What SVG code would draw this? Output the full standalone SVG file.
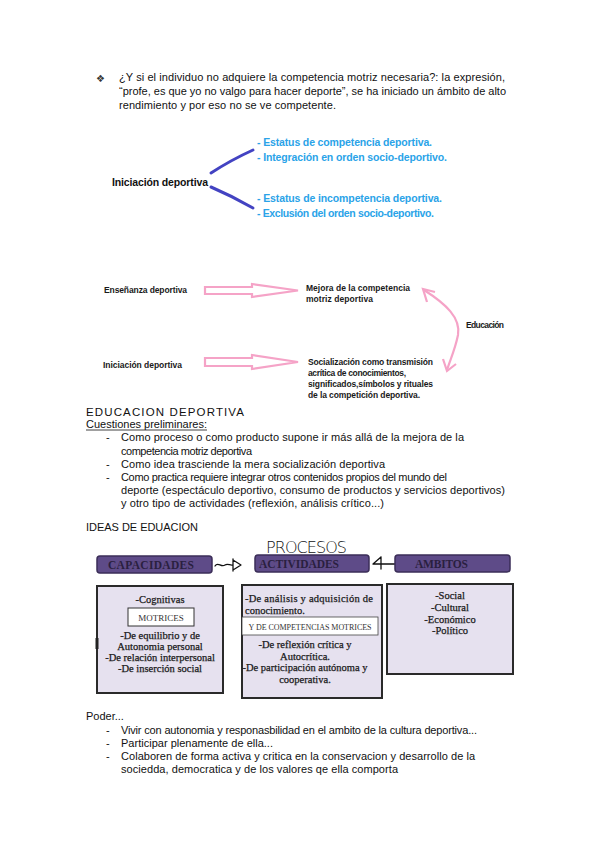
<svg xmlns="http://www.w3.org/2000/svg" width="599" height="848" viewBox="0 0 599 848">
<defs>
<style>
.body{font-family:"Liberation Sans",Arial,sans-serif;font-size:11px;fill:#111}
.blue{font-family:"Liberation Sans",Arial,sans-serif;font-size:10.5px;font-weight:bold;fill:#2aa3e8}
.dg{font-family:"Liberation Sans",Arial,sans-serif;font-size:8.5px;font-weight:bold;fill:#1a1a1a}
.hdr{fill:#5e4b88;stroke:#3b2e58;stroke-width:1.5}
.hdrt{font-family:"Liberation Serif","Times New Roman",serif;font-size:11.5px;font-weight:bold;fill:#2a1f3f}
.box{fill:#e6e1ef;stroke:#2a2a2a;stroke-width:2}
.bt{font-family:"Liberation Serif","Times New Roman",serif;font-size:10.5px;fill:#1a1a1a;stroke:#1a1a1a;stroke-width:0.25;text-anchor:middle}
.btl{font-family:"Liberation Serif","Times New Roman",serif;font-size:10.5px;fill:#1a1a1a;stroke:#1a1a1a;stroke-width:0.25}
.wt{font-family:"Liberation Serif","Times New Roman",serif;font-size:8px;fill:#333;text-anchor:middle}
.pink{fill:none;stroke:#f5a3c7;stroke-width:2.2;stroke-linejoin:miter}
.bl{fill:none;stroke:#4343c2;stroke-width:3;stroke-linecap:round}
.hand{fill:none;stroke:#111;stroke-width:1.3;stroke-linecap:round;stroke-linejoin:round}
</style>
</defs>
<rect width="599" height="848" fill="#fff"/>

<g id="intro">
<text x="96" y="82" style="font-family:'DejaVu Sans',sans-serif;font-size:10px;fill:#333">❖</text>
<text class="body" x="119" y="81" textLength="386">¿Y si el individuo no adquiere la competencia motriz necesaria?: la expresión,</text>
<text class="body" x="119" y="95" textLength="387">“profe, es que yo no valgo para hacer deporte”, se ha iniciado un ámbito de alto</text>
<text class="body" x="119" y="109" textLength="217">rendimiento y por eso no se ve competente.</text>
</g>

<g id="connectors">
<path class="bl" d="M211,173 Q231,160 253,150"/>
<path class="bl" d="M211,187 Q232,196 253,208"/>
<path class="pink" d="M205,287 H252 V284 L298,290.5 L252,297 V294 H205 Z"/>
<path class="pink" d="M205,358 H252 V355 L298,362 L252,369 V366 H205 Z"/>
<path class="pink" d="M424,290 C446,304 461,318 458,335 C455,350 450,360 447,370"/>
<path class="pink" d="M435,292 L423,289 L427,302"/>
<path class="pink" d="M443,359 L447,371 L456,364"/>
<path class="hand" d="M215,566 C218,561 221,568 225,565 C228,563 230,566 233,565 M233,559 V571 M233,560 L241,565 L233,570"/>
<path class="hand" d="M395,564 H383 M381,557 L373,564 L383,564 M381,557 V569"/>
</g>

<g id="iniciacion">
<text x="112" y="186" textLength="96" style="font-family:'Liberation Sans',Arial,sans-serif;font-size:10.5px;font-weight:bold;fill:#111">Iniciación deportiva</text>
</g>
<g id="competencia">
<text class="blue" x="257" y="146" textLength="175">- Estatus de competencia deportiva.</text>
<text class="blue" x="257" y="161" textLength="190">- Integración en orden socio-deportivo.</text>
</g>
<g id="incompetencia">
<text class="blue" x="257" y="202" textLength="185">- Estatus de incompetencia deportiva.</text>
<text class="blue" x="257" y="217" textLength="177">- Exclusión del orden socio-deportivo.</text>
</g>

<g id="ensenanza"><text class="dg" x="104" y="293" textLength="83">Enseñanza deportiva</text></g>
<g id="mejora">
<text class="dg" x="306" y="291" textLength="104">Mejora de la competencia</text>
<text class="dg" x="306" y="302" textLength="67">motriz deportiva</text>
</g>
<g id="educacion"><text class="dg" x="466" y="328" textLength="38">Educación</text></g>
<g id="iniciacion2"><text class="dg" x="103" y="368" textLength="79">Iniciación deportiva</text></g>
<g id="socializacion">
<text class="dg" x="308" y="365" textLength="125">Socialización como transmisión</text>
<text class="dg" x="308" y="376" textLength="98">acrítica de conocimientos,</text>
<text class="dg" x="308" y="387" textLength="125">significados,símbolos y rituales</text>
<text class="dg" x="308" y="398" textLength="112">de la competición deportiva.</text>
</g>

<g id="educacion-deportiva">
<text class="body" x="86" y="416" textLength="158" style="font-size:11.5px">EDUCACION DEPORTIVA</text>
<text class="body" x="86" y="428" textLength="121">Cuestiones preliminares:</text>
<line x1="86" y1="430" x2="207" y2="430" stroke="#111" stroke-width="0.8"/>
<text class="body" x="106" y="441">-</text>
<text class="body" x="121" y="441" textLength="343">Como proceso o como producto supone ir más allá de la mejora de la</text>
<text class="body" x="121" y="455" textLength="131">competencia motriz deportiva</text>
<text class="body" x="106" y="468">-</text>
<text class="body" x="121" y="468" textLength="264">Como idea trasciende la mera socialización deportiva</text>
<text class="body" x="106" y="481">-</text>
<text class="body" x="121" y="481" textLength="326">Como practica requiere integrar otros contenidos propios del mundo del</text>
<text class="body" x="121" y="494" textLength="384">deporte (espectáculo deportivo, consumo de productos y servicios deportivos)</text>
<text class="body" x="121" y="507" textLength="263">y otro tipo de actividades (reflexión, análisis crítico...)</text>
<text class="body" x="86" y="531" textLength="112">IDEAS DE EDUACION</text>
</g>

<g id="procesos">
<text x="266" y="553" style="font-family:'DejaVu Sans',sans-serif;font-size:16px;font-weight:200;fill:#111" textLength="81">PROCESOS</text>
</g>

<g id="capacidades">
<rect class="hdr" x="97" y="556" width="115" height="17" rx="3"/>
<text class="hdrt" x="108" y="569" textLength="86">CAPACIDADES</text>
<rect class="box" x="97" y="586" width="126" height="107"/>
<rect x="95.5" y="638" width="3" height="11" fill="#222"/>
<text class="bt" x="160" y="603">-Cognitivas</text>
<rect x="128" y="608" width="66" height="18" fill="#fff" stroke="#333" stroke-width="1"/>
<text class="wt" x="161" y="621" style="font-size:9px">MOTRICES</text>
<text class="bt" x="160" y="639">-De equilibrio y de</text>
<text class="bt" x="160" y="650">Autonomia personal</text>
<text class="bt" x="160" y="661">-De relación interpersonal</text>
<text class="bt" x="160" y="672">-De inserción social</text>
</g>

<g id="actividades">
<rect class="hdr" x="255" y="555" width="114" height="17" rx="3"/>
<text class="hdrt" x="259" y="568" textLength="80">ACTIVIDADES</text>
<rect class="box" x="242" y="585" width="140" height="113"/>
<text class="btl" x="245" y="602" textLength="128">-De análisis y adquisición de</text>
<text class="btl" x="245" y="614">conocimiento.</text>
<rect x="242" y="617" width="136" height="18" fill="#fff" stroke="#444" stroke-width="0.8"/>
<text class="wt" x="310" y="629.5" textLength="123">Y DE COMPETENCIAS MOTRICES</text>
<text class="bt" x="305" y="648">-De reflexión crítica y</text>
<text class="bt" x="305" y="660">Autocrítica.</text>
<text class="bt" x="305" y="671">-De participación autónoma y</text>
<text class="bt" x="305" y="683">cooperativa.</text>
</g>

<g id="ambitos">
<rect class="hdr" x="395" y="555" width="115" height="17" rx="3"/>
<text class="hdrt" x="415" y="568" textLength="53">AMBITOS</text>
<rect class="box" x="387" y="584" width="126" height="90"/>
<text class="bt" x="450" y="599">-Social</text>
<text class="bt" x="450" y="611">-Cultural</text>
<text class="bt" x="450" y="623">-Económico</text>
<text class="bt" x="450" y="634">-Político</text>
</g>

<g id="poder">
<text class="body" x="86" y="720">Poder...</text>
<text class="body" x="106" y="734">-</text>
<text class="body" x="121" y="734" textLength="356">Vivir con autonomia y responasbilidad en el ambito de la cultura deportiva...</text>
<text class="body" x="106" y="747">-</text>
<text class="body" x="121" y="747" textLength="152">Participar plenamente de ella...</text>
<text class="body" x="106" y="760">-</text>
<text class="body" x="121" y="760" textLength="354">Colaboren de forma activa y critica en la conservacion y desarrollo de la</text>
<text class="body" x="121" y="773" textLength="277">sociedda, democratica y de los valores qe ella comporta</text>
</g>
</svg>
